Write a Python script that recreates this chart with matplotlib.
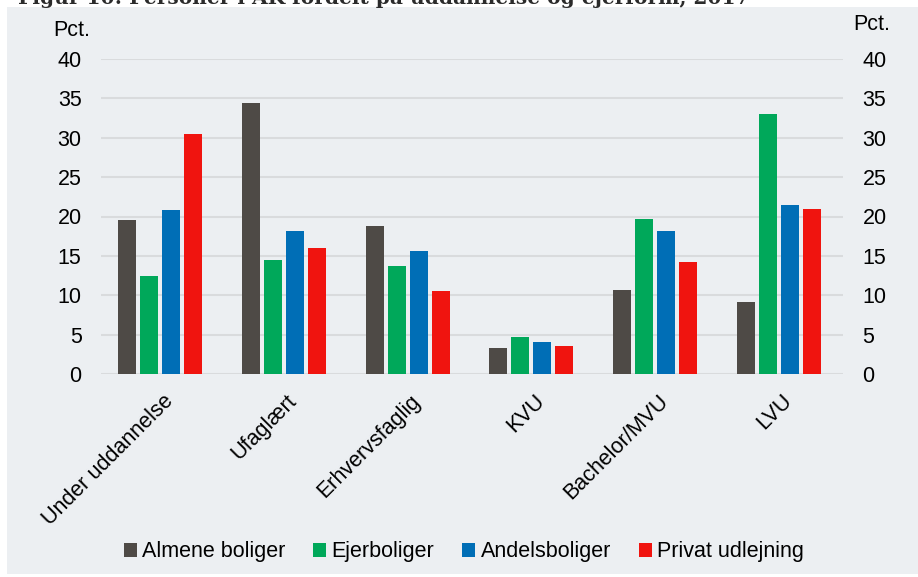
import numpy as np
import matplotlib.pyplot as plt
from matplotlib.patches import Rectangle

# Data ------------------------------------------------------------------------
categories = ['Under uddannelse', 'Ufaglært', 'Erhvervsfaglig', 'KVU', 'Bachelor/MVU', 'LVU']
almene = [19.5, 34.4, 18.8, 3.3, 10.7, 9.2]
ejer = [12.5, 14.5, 13.7, 4.7, 19.7, 33.0]
andel = [20.8, 18.1, 15.6, 4.1, 18.2, 21.4]
privat = [30.5, 16.0, 10.5, 3.6, 14.2, 20.9]
series_names = ['Almene boliger', 'Ejerboliger', 'Andelsboliger', 'Privat udlejning']
yticks = [0, 5, 10, 15, 20, 25, 30, 35, 40]

colors = ['#4E4A46', '#00A85A', '#006EB6', '#F0140F']
FS = 15.5
bg = '#ECEFF2'

plt.rcParams['font.family'] = ['Liberation Sans', 'DejaVu Sans']

fig = plt.figure(figsize=(9.18, 5.77), dpi=100)
fig.patch.set_facecolor('white')
fig.patches.append(Rectangle((7/918, 3/577), 1 - 7/918, 1 - 10/577,
                             transform=fig.transFigure, facecolor=bg,
                             edgecolor='none', zorder=-10))

# title, cut off at the very top like in the source
fig.text(18/918, 1 - 4/577, 'Figur 10: Personer i AK fordelt på uddannelse og ejerform, 2017',
         family='DejaVu Serif', fontweight='bold', fontsize=14.5, color='#2b2b2b',
         va='baseline', ha='left')

ax = fig.add_axes([101/918, 1 - 374/577, (843 - 101)/918, (374 - 59)/577])
ax.set_facecolor('none')

x = np.arange(len(categories))
w = 0.145
step = 0.178
all_series = [almene, ejer, andel, privat]
for i, (vals, col, name) in enumerate(zip(all_series, colors, series_names)):
    ax.bar(x + (i - 1.5) * step - 0.02, vals, width=w, color=col, label=name, zorder=3)

ax.set_xlim(-0.5, len(categories) - 0.5)
ax.set_ylim(0, 40)
ax.set_yticks(yticks)
ax.set_yticklabels([str(t) for t in yticks], fontsize=FS)
ax.yaxis.grid(True, color='#D9DBDD', linewidth=1.5, zorder=0)
ax.set_axisbelow(True)
for s in ax.spines.values():
    s.set_visible(False)
ax.tick_params(axis='y', length=0, pad=14)
ax.tick_params(axis='x', length=0, pad=12)
ax.set_xticks(x)
ax.set_xticklabels(categories, rotation=45, ha='right', va='top',
                   rotation_mode='anchor', fontsize=FS)

ax2 = ax.twinx()
ax2.set_ylim(0, 40)
ax2.set_yticks(yticks)
ax2.set_yticklabels([str(t) for t in yticks], fontsize=FS)
ax2.tick_params(axis='y', length=0, pad=14)
for s in ax2.spines.values():
    s.set_visible(False)

fig.text(72/918, 1 - 30/577, 'Pct.', fontsize=FS, ha='center', va='center')
fig.text(872/918, 1 - 25/577, 'Pct.', fontsize=FS, ha='center', va='center')

ax.legend(loc='center', bbox_to_anchor=(0.5 - 8/742, (1 - 552/577 - (1 - 374/577)) / ((374 - 59)/577)),
          bbox_transform=ax.transAxes, ncol=4, frameon=False, fontsize=FS,
          handlelength=0.6, handleheight=0.6, handletextpad=0.25, columnspacing=1.3)

fig.savefig('out.png', dpi=100, facecolor=fig.get_facecolor())
